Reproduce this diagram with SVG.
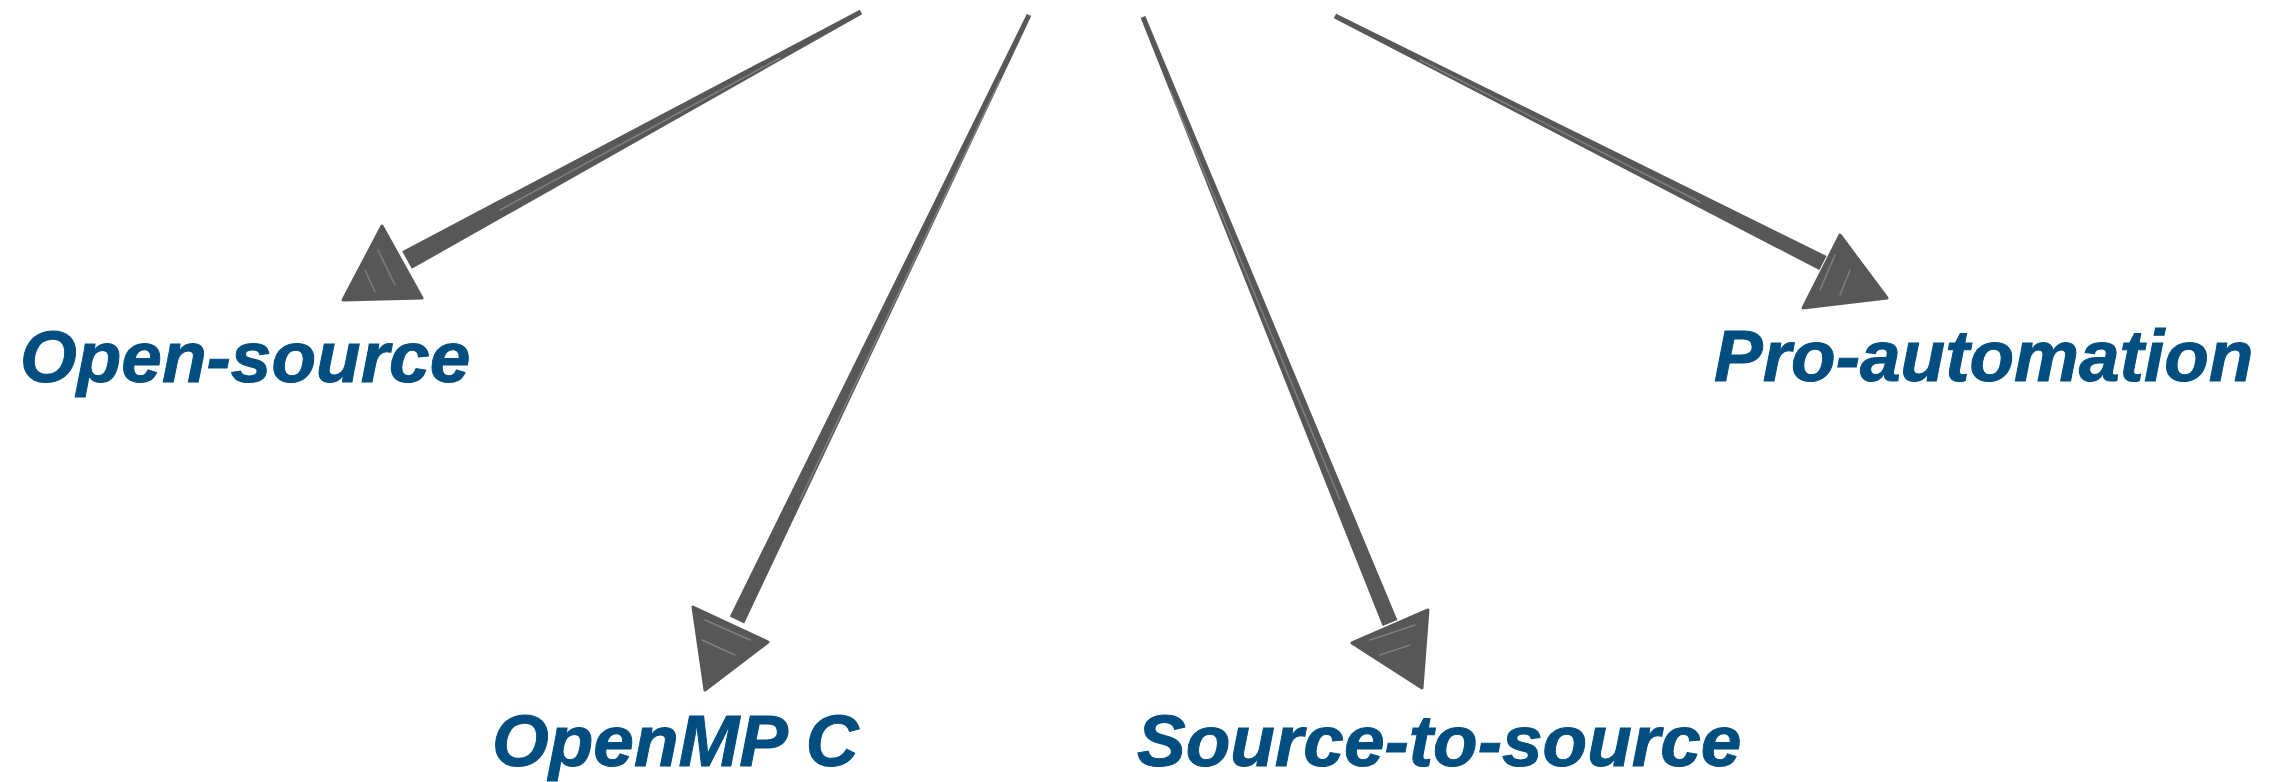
<svg xmlns="http://www.w3.org/2000/svg" width="2280" height="782" viewBox="0 0 2280 782">
  <style>
    .lbl { font-family: "Liberation Sans", Arial, Helvetica, sans-serif; font-weight: bold; font-style: italic; font-size: 73px; fill: #004e80; stroke: #004e80; stroke-width: 1; }
    .shaft { fill: #575757; }
    .head { fill: #575757; stroke: #575757; stroke-width: 3; stroke-linejoin: round; }
    .streak { stroke: #9a9a9a; stroke-width: 1.5; fill: none; stroke-linecap: round; opacity: 0.6; }
  </style>
  <rect width="2280" height="782" fill="#ffffff"/>
  <g id="connectors">
    <g id="arrow-open-source">
      <polygon class="shaft" points="862.2,14.2 411.8,268.8 402.2,251.2 859.8,9.8"/>
      <line class="streak" x1="780" y1="58" x2="500" y2="210"/>
      <polygon class="head" points="382,226 422,298 343,300"/>
      <line class="streak" x1="378" y1="250" x2="395" y2="285"/>
      <line class="streak" x1="365" y1="270" x2="375" y2="292"/>
    </g>
    <g id="arrow-openmp">
      <polygon class="shaft" points="1031.2,16.1 744.2,623.5 729.8,616.5 1026.8,13.9"/>
      <line class="streak" x1="1000" y1="80" x2="800" y2="500"/>
      <polygon class="head" points="693,607 768,642 705,690"/>
      <line class="streak" x1="705" y1="620" x2="750" y2="640"/>
      <line class="streak" x1="702" y1="640" x2="735" y2="655"/>
    </g>
    <g id="arrow-source-to-source">
      <polygon class="shaft" points="1145.3,16.1 1397.4,620.0 1382.6,626.0 1140.7,17.9"/>
      <line class="streak" x1="1170" y1="90" x2="1340" y2="500"/>
      <polygon class="head" points="1428,610 1352,643 1422,688"/>
      <line class="streak" x1="1370" y1="640" x2="1415" y2="625"/>
      <line class="streak" x1="1380" y1="655" x2="1410" y2="645"/>
    </g>
    <g id="arrow-pro-automation">
      <polygon class="shaft" points="1333.9,18.2 1819.4,270.1 1826.6,255.9 1336.1,13.8"/>
      <line class="streak" x1="1420" y1="60" x2="1700" y2="202"/>
      <polygon class="head" points="1840,235 1887,298 1803,308"/>
      <line class="streak" x1="1835" y1="255" x2="1820" y2="290"/>
      <line class="streak" x1="1850" y1="270" x2="1840" y2="295"/>
    </g>
  </g>
  <g id="node-open-source"><text class="lbl" x="20" y="382">Open-source</text></g>
  <g id="node-openmp-c"><text class="lbl" x="492" y="766">OpenMP C</text></g>
  <g id="node-source-to-source"><text class="lbl" x="1137" y="766">Source-to-source</text></g>
  <g id="node-pro-automation"><text class="lbl" x="1714" y="381">Pro-automation</text></g>
</svg>
